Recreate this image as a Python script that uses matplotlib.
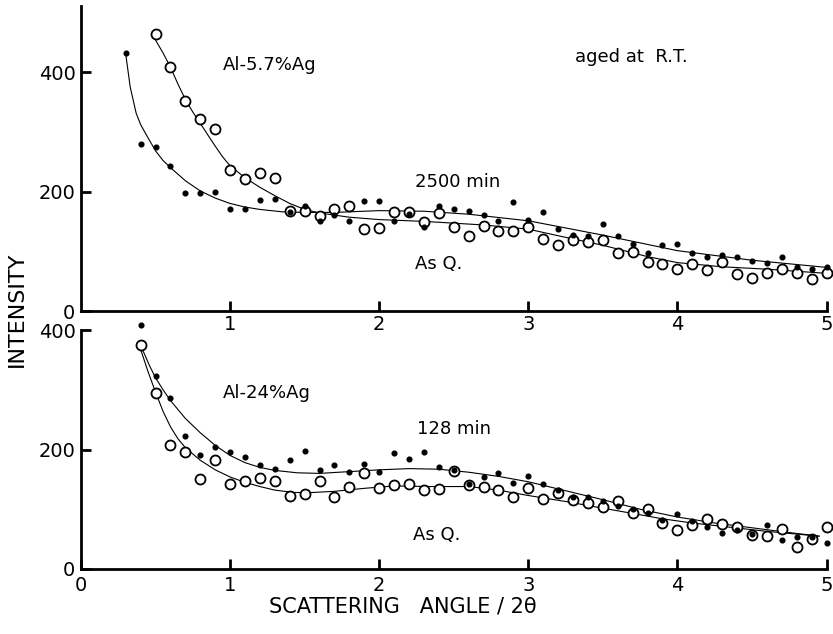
import matplotlib
matplotlib.use("Agg")
import matplotlib.pyplot as plt

plt.rcParams['font.family'] = ['DejaVu Sans']

# ---------------- data ----------------
angles = [0.3, 0.4, 0.5, 0.6, 0.7, 0.8, 0.9, 1.0, 1.1, 1.2, 1.3, 1.4, 1.5, 1.6,
          1.7, 1.8, 1.9, 2.0, 2.1, 2.2, 2.3, 2.4, 2.5, 2.6, 2.7, 2.8, 2.9, 3.0,
          3.1, 3.2, 3.3, 3.4, 3.5, 3.6, 3.7, 3.8, 3.9, 4.0, 4.1, 4.2, 4.3, 4.4,
          4.5, 4.6, 4.7, 4.8, 4.9, 5.0]

# Top panel: Al-5.7%Ag, aged at R.T.
top_open = [464, 408, 352, 321, 304, 236, 221, 231, 222, 168, 167, 159, 170, 175,
            137, 139, 165, 166, 149, 164, 141, 126, 142, 134, 134, 140, 121, 111,
            119, 116, 119, 97, 98, 82, 79, 71, 78, 69, 82, 62, 55, 63, 71, 63, 54, 64]   # from 0.5
top_dots = [432, 279, 275, 242, 197, 197, 199, 171, 170, 185, 188, 166, 176, 151,
            161, 151, 184, 184, 151, 162, 141, 176, 170, 168, 161, 151, 183, 152,
            165, 138, 128, 126, 146, 126, 112, 97, 110, 112, 97, 91, 93, 91, 83, 81,
            90, 74, 71, 74]   # from 0.3

# Bottom panel: Al-24%Ag
bot_open = [375, 295, 208, 195, 150, 182, 142, 148, 153, 148, 122, 125, 148, 121,
            137, 161, 135, 140, 142, 132, 134, 164, 140, 138, 132, 121, 135, 117,
            127, 116, 111, 103, 114, 93, 101, 77, 65, 73, 84, 76, 71, 57, 55, 67,
            36, 50, 71]   # from 0.4
bot_dots = [408, 323, 287, 223, 190, 205, 195, 188, 174, 167, 182, 197, 166, 174,
            162, 176, 162, 194, 184, 195, 170, 165, 142, 154, 160, 144, 156, 142,
            132, 121, 121, 113, 106, 100, 94, 82, 92, 81, 71, 61, 66, 58, 74, 48,
            53, 53, 43]   # from 0.4

# fitted curves as drawn in the figure
top_open_cx = [0.48, 0.55, 0.6, 0.65, 0.7, 0.75, 0.8, 0.85, 0.9, 0.95, 1.0, 1.1, 1.2,
               1.3, 1.4, 1.5, 1.6, 1.8, 2.0, 2.3, 2.7, 3.0, 3.2, 3.5, 3.8, 4.0, 4.3,
               4.6, 5.0]
top_open_cy = [462, 432, 408, 380, 354, 333, 314, 295, 276, 258, 243, 223, 207,
               193, 180, 170, 164, 157, 153, 150, 144, 137, 126, 110, 91, 81, 74,
               70, 63]
top_dots_cx = [0.3, 0.33, 0.37, 0.4, 0.44, 0.5, 0.55, 0.6, 0.7, 0.8, 0.9, 1.0, 1.1,
               1.2, 1.35, 1.5, 1.7, 2.0, 2.3, 2.6, 3.0, 3.5, 4.0, 4.5, 5.0]
top_dots_cy = [430, 375, 331, 312, 294, 268, 252, 240, 218, 201, 189, 180, 174,
               170, 166, 165, 165, 168, 167, 162, 151, 127, 101, 85, 73]
bot_dots_cx = [0.39, 0.42, 0.46, 0.5, 0.55, 0.6, 0.7, 0.8, 0.9, 1.0, 1.1, 1.2, 1.3,
               1.45, 1.6, 1.8, 2.0, 2.2, 2.4, 2.6, 2.8, 3.0, 3.25, 3.5, 3.75, 4.0,
               4.25, 4.5, 4.75, 4.95]
bot_dots_cy = [375, 363, 340, 320, 300, 282, 252, 228, 207, 190, 178, 170, 165,
               161, 160, 163, 166, 168, 167, 162, 155, 146, 131, 116, 100, 87,
               77, 69, 61, 55]
bot_open_cx = [0.39, 0.45, 0.5, 0.55, 0.6, 0.65, 0.7, 0.8, 0.9, 1.0, 1.1, 1.2, 1.3,
               1.43, 1.55, 1.7, 1.9, 2.1, 2.35, 2.6, 2.8, 3.0, 3.25, 3.45, 3.7, 3.9,
               4.1, 4.35, 4.6, 4.95]
bot_open_cy = [375, 330, 296, 264, 238, 218, 203, 182, 166, 154, 145, 138, 132,
               128, 128, 130, 135, 139, 138, 138, 132, 123, 113, 104, 93, 84,
               77, 70, 63, 55]

ylabel = "INTENSITY"
xlabel = "SCATTERING   ANGLE / 2\u03b8"

# ---------------- figure ----------------
W, H = 833, 634
fig = plt.figure(figsize=(W / 100, H / 100), dpi=100)

def ax_rect(left_px, right_px, top_px, bottom_px):
    return [left_px / W, 1 - bottom_px / H, (right_px - left_px) / W, (bottom_px - top_px) / H]

ax1 = fig.add_axes(ax_rect(81, 826.5, 6.3, 311))
ax2 = fig.add_axes(ax_rect(81, 826.5, 330, 569))

open_kw = dict(linestyle='none', marker='o', markersize=7.2, markerfacecolor='white',
               markeredgecolor='black', markeredgewidth=1.3, clip_on=False, zorder=3)
dot_kw = dict(linestyle='none', marker='o', markersize=3.4, color='black',
              clip_on=False, zorder=4)
line_kw = dict(color='black', linewidth=0.8, zorder=2, clip_on=False,
               solid_joinstyle='round')

def series_x(vals):
    return angles[len(angles) - len(vals):]

# top panel
ax1.plot(top_open_cx, top_open_cy, **line_kw)
ax1.plot(top_dots_cx, top_dots_cy, **line_kw)
ax1.plot(series_x(top_open), top_open, **open_kw)
ax1.plot(series_x(top_dots), top_dots, **dot_kw)

# bottom panel
ax2.plot(bot_dots_cx, bot_dots_cy, **line_kw)
ax2.plot(bot_open_cx, bot_open_cy, **line_kw)
ax2.plot(series_x(bot_open), bot_open, **open_kw)
ax2.plot(series_x(bot_dots), bot_dots, **dot_kw)

for ax in (ax1, ax2):
    ax.set_xlim(0, 5)
    for s in ('top', 'right'):
        ax.spines[s].set_visible(False)
    for s in ('left', 'bottom'):
        ax.spines[s].set_linewidth(2.0)
    ax.set_yticks([0, 200, 400])
    ax.tick_params(axis='both', direction='in', length=7, width=2, labelsize=14)
    ax.tick_params(axis='y', pad=4)

ax1.set_ylim(0, 510)
ax1.set_xticks([1, 2, 3, 4, 5])
ax1.tick_params(axis='x', pad=3)

ax2.set_ylim(0, 400)
ax2.set_xticks([0, 1, 2, 3, 4, 5])
ax2.tick_params(axis='x', pad=5)

# annotations
fs = 13
ax1.text(0.953, 412, "Al-5.7%Ag", fontsize=fs, ha='left', va='center')
ax1.text(3.315, 425, "aged at  R.T.", fontsize=fs, ha='left', va='center')
ax1.text(2.24, 216, "2500 min", fontsize=fs, ha='left', va='center')
ax1.text(2.24, 79, "As Q.", fontsize=fs, ha='left', va='center')

ax2.text(0.953, 295, "Al-24%Ag", fontsize=fs, ha='left', va='center')
ax2.text(2.255, 235, "128 min", fontsize=fs, ha='left', va='center')
ax2.text(2.23, 57, "As Q.", fontsize=fs, ha='left', va='center')

fig.text(17 / W, 1 - 309 / H, ylabel, rotation=90, ha='center', va='center', fontsize=16)
fig.text(403 / W, 1 - 613 / H, xlabel, ha='center', va='baseline', fontsize=15)

fig.savefig("out.png", dpi=100)
